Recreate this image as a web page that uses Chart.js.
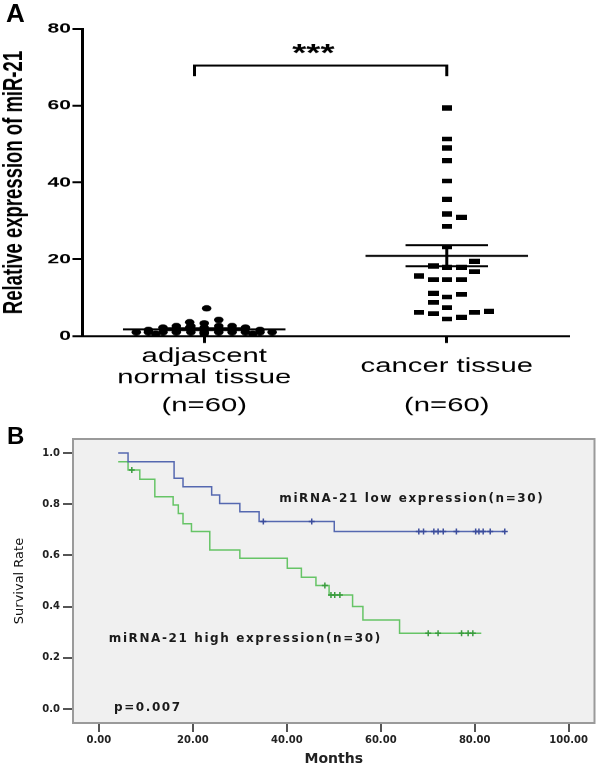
<!DOCTYPE html>
<html>
<head>
<meta charset="utf-8">
<script src="https://cdn.jsdelivr.net/npm/chart.js@4.4.1/dist/chart.umd.min.js"></script>
<style>
  body { margin: 0; background: #fff; }
  #wrap { position: relative; width: 600px; height: 766px; overflow: hidden; background: #fff; }
  /* panel A was stretched sideways in the original figure */
  #boxA { position: absolute; left: 0; top: 0; width: 400px; height: 420px; transform: scaleX(1.5); transform-origin: 0 0; }
  #boxB { position: absolute; left: 0; top: 420px; width: 600px; height: 346px; }
  .panel { position: absolute; font-family: "Liberation Sans", Arial, sans-serif; font-weight: bold; color: #000; }
</style>
</head>
<body>
<div id="wrap">
  <div id="boxA"><canvas id="chartA"></canvas></div>
  <div id="boxB"><canvas id="chartB"></canvas></div>
  <div class="panel" style="left:6px; top:0px; font-size:26px; line-height:26px">A</div>
  <div class="panel" style="left:7px; top:424px; font-size:24px; line-height:24px">B</div>
</div>
<script>
// ---- panel A data ----
const categoryLabels = [['adjascent', 'normal tissue', '(n=60)'], ['cancer tissue', '(n=60)']]
const yTicksA = [0, 20, 40, 60, 80]

const adjacentValues = [7.2, 4.2, 3.6, 3.3, 2.6, 2.6, 2.6, 2.6, 2.2, 2.2, 2.2, 2.2, 1.6, 1.6, 1.6, 1.6,
  1.0, 1.0, 1.0, 1.0, 1.0, 1.0, 1.0, 1.0, 1.0, 1.0, 1.0, 0.6, 0.6, 0.6]
const adjacentJitter = [0.01, 0.06, -0.06, 0.0, -0.115, -0.055, 0.06, 0.115, -0.17, -0.06, 0.0, 0.17, -0.23, -0.115, 0.115, 0.23,
  -0.28, -0.23, -0.17, -0.115, -0.055, 0.0, 0.06, 0.115, 0.17, 0.23, 0.28, -0.2, 0.0, 0.2]

const cancerValues = [59.4, 51.3, 49.0, 45.7, 40.4, 35.6, 31.8, 30.9, 28.6, 23.2, 18.2, 17.9, 17.9, 19.5, 16.8,
  15.6, 14.7, 14.7, 14.7, 11.1, 10.2, 10.9, 8.8, 6.2, 5.8, 7.4, 4.4, 4.9, 6.2, 6.4]
const cancerJitter = [0, 0, 0, 0, 0, 0, 0, 0.06, 0, 0, -0.055, 0, 0.06, 0.115, 0.115,
  -0.115, -0.055, 0, 0.06, -0.055, 0, 0.06, -0.055, -0.115, -0.055, 0, 0, 0.06, 0.115, 0.175]

const groupMeans = [1.75, 20.9]
const groupSems = [0.25, 2.75]
const bracketX = [0.96, 2.0]
const bracketTop = 70.5
const bracketFoot = 67.7
const significance = '***'

// ---- panel B data ----
const xTicksB = [0, 20, 40, 60, 80, 100]
const yTicksB = [0, 0.2, 0.4, 0.6, 0.8, 1.0]

const lowTimes = [4.1, 6.2, 16.0, 17.9, 24.0, 25.7, 30.0, 34.1, 50.1, 86.4]
const lowSurv = [1.0, 0.966, 0.901, 0.868, 0.836, 0.803, 0.771, 0.732, 0.693, 0.693]
const lowCensored = [35.0, 45.3, 68.1, 69.1, 71.3, 72.2, 73.3, 76.1, 80.2, 80.9, 81.8, 83.3, 86.4]

const highTimes = [4.1, 6.2, 8.7, 11.9, 15.8, 16.9, 17.9, 19.7, 23.6, 30.0, 40.1, 43.1, 46.2, 49.0, 54.0, 56.2, 64.0, 81.4]
const highSurv = [0.966, 0.934, 0.897, 0.829, 0.797, 0.764, 0.724, 0.693, 0.621, 0.589, 0.55, 0.515, 0.482, 0.445, 0.4, 0.348, 0.296, 0.296]
const highCensored = [7.0, 48.1, 49.4, 50.2, 51.3, 70.1, 72.2, 77.2, 78.6, 79.6]

const noteTexts = ['miRNA-21 low expression(n=30)', 'miRNA-21 high expression(n=30)', 'p=0.007']
const noteX = [38.4, 2.1, 3.2]
const noteY = [0.82, 0.273, 0.004]

const FONT = '"Liberation Sans", Arial, sans-serif'
const WIDE = '"DejaVu Sans", Verdana, sans-serif'

function segment(points) {
  return {
    data: points, showLine: true, pointRadius: 0, borderColor: '#000', borderWidth: 2,
    fill: false, tension: 0
  }
}

// a small flat box, like the squares of the original
const box = document.createElement('canvas')
box.width = 7
box.height = 5
box.getContext('2d').fillRect(0, 0, 7, 5)

let datasetsA = [
  {
    data: adjacentValues.map((v, i) => ({x: 1 + adjacentJitter[i], y: v})),
    pointStyle: 'circle', pointRadius: 3.2, backgroundColor: '#000', borderWidth: 0
  },
  {
    data: cancerValues.map((v, i) => ({x: 2 + cancerJitter[i], y: v})),
    pointStyle: box, pointRadius: 4, backgroundColor: '#000', borderWidth: 0
  }
]
groupMeans.forEach((m, i) => {
  const c = i + 1, s = groupSems[i]
  datasetsA.push(segment([{x: c - 0.335, y: m}, {x: c + 0.335, y: m}]))
  datasetsA.push(segment([{x: c, y: m - s}, {x: c, y: m + s}]))
  datasetsA.push(segment([{x: c - 0.17, y: m - s}, {x: c + 0.17, y: m - s}]))
  datasetsA.push(segment([{x: c - 0.17, y: m + s}, {x: c + 0.17, y: m + s}]))
})
datasetsA.push(segment([
  {x: bracketX[0], y: bracketFoot}, {x: bracketX[0], y: bracketTop},
  {x: bracketX[1], y: bracketTop}, {x: bracketX[1], y: bracketFoot}
]))

const labelsA = {
  id: 'labelsA',
  afterDraw(chart) {
    const ctx = chart.ctx, xs = chart.scales.x, ys = chart.scales.y
    const base = xs.top
    ctx.save()
    ctx.fillStyle = '#000'
    ctx.textAlign = 'center'
    ctx.textBaseline = 'alphabetic'
    ctx.font = '19.5px ' + FONT
    const offsets = [[26, 47, 75], [36, 75]]
    categoryLabels.forEach((lines, i) => {
      const px = xs.getPixelForValue(i + 1)
      lines.forEach((t, j) => ctx.fillText(t, px, base + offsets[i][j]))
    })
    ctx.font = 'bold 24px ' + FONT
    ctx.textBaseline = 'middle'
    ctx.fillText(significance, xs.getPixelForValue(1.45), ys.getPixelForValue(bracketTop + 2.8))
    ctx.restore()
  }
}

new Chart(document.getElementById('chartA'), {
  type: 'scatter',
  data: {datasets: datasetsA},
  options: {
    responsive: true,
    maintainAspectRatio: false,
    devicePixelRatio: 1.5,
    animation: false,
    layout: {padding: {top: 29, right: 21.3, bottom: 0, left: 0}},
    plugins: {legend: {display: false}, tooltip: {enabled: false}},
    scales: {
      x: {
        type: 'linear', min: 0.5, max: 2.5,
        afterBuildTicks: s => { s.ticks = [{value: 1}, {value: 2}] },
        afterFit: s => { s.height = 84 },
        ticks: {display: false},
        grid: {drawOnChartArea: false, drawTicks: true, tickLength: 7, color: '#000', lineWidth: 2},
        border: {display: true, color: '#000', width: 2}
      },
      y: {
        min: 0, max: 80,
        afterBuildTicks: s => { s.ticks = yTicksA.map(v => ({value: v})) },
        afterFit: s => { s.width = 55.3 },
        ticks: {color: '#000', padding: 1, font: {family: FONT, size: 14, weight: 'bold'}},
        grid: {drawOnChartArea: false, drawTicks: true, tickLength: 7, color: '#000', lineWidth: 2},
        border: {display: true, color: '#000', width: 2},
        title: {
          display: true, text: 'Relative expression of miR-21', color: '#000', padding: 0,
          font: {family: FONT, size: 18.5, weight: 'bold', lineHeight: 1}
        }
      }
    }
  },
  plugins: [labelsA]
})

// ---- panel B ----
function survivalAt(times, surv, t) {
  let s = surv[0]
  times.forEach((tt, i) => { if (tt <= t) s = surv[i] })
  return s
}

const frameB = {
  id: 'frameB',
  beforeDatasetsDraw(chart) {
    const {ctx, chartArea: a} = chart
    ctx.save()
    ctx.fillStyle = '#f0f0f0'
    ctx.fillRect(a.left, a.top, a.right - a.left, a.bottom - a.top)
    ctx.strokeStyle = '#9a9a9a'
    ctx.lineWidth = 2
    ctx.strokeRect(a.left, a.top, a.right - a.left, a.bottom - a.top)
    ctx.restore()
  },
  afterDatasetsDraw(chart) {
    const ctx = chart.ctx, xs = chart.scales.x, ys = chart.scales.y
    ctx.save()
    ctx.fillStyle = '#1a1a1a'
    ctx.font = 'bold 12px ' + WIDE
    ctx.letterSpacing = '1.6px'
    ctx.textAlign = 'left'
    ctx.textBaseline = 'middle'
    noteTexts.forEach((t, i) => ctx.fillText(t, xs.getPixelForValue(noteX[i]), ys.getPixelForValue(noteY[i])))
    ctx.restore()
  }
}

const blue = '#5568b0', blueMark = '#3b4c9c'
const green = '#66c466', greenMark = '#3a9c3e'

new Chart(document.getElementById('chartB'), {
  type: 'scatter',
  data: {
    datasets: [
      {
        data: lowCensored.map(t => ({x: t, y: survivalAt(lowTimes, lowSurv, t)})),
        pointStyle: 'cross', pointRadius: 3, borderColor: blueMark, borderWidth: 1.5
      },
      {
        data: highCensored.map(t => ({x: t, y: survivalAt(highTimes, highSurv, t)})),
        pointStyle: 'cross', pointRadius: 3, borderColor: greenMark, borderWidth: 1.5
      },
      {
        data: lowTimes.map((t, i) => ({x: t, y: lowSurv[i]})),
        showLine: true, stepped: true, pointRadius: 0, borderColor: blue, borderWidth: 1.5
      },
      {
        data: highTimes.map((t, i) => ({x: t, y: highSurv[i]})),
        showLine: true, stepped: true, pointRadius: 0, borderColor: green, borderWidth: 1.5
      }
    ]
  },
  options: {
    responsive: true,
    maintainAspectRatio: false,
    animation: false,
    layout: {padding: {top: 19, right: 4, bottom: 0, left: 0}},
    plugins: {legend: {display: false}, tooltip: {enabled: false}},
    scales: {
      x: {
        type: 'linear', min: -5.52, max: 105.5,
        afterBuildTicks: s => { s.ticks = xTicksB.map(v => ({value: v})) },
        afterFit: s => { s.height = 43 },
        ticks: {color: '#222', padding: 2, font: {family: WIDE, size: 10, weight: 'bold'}, callback: v => v.toFixed(2)},
        grid: {drawOnChartArea: false, drawTicks: true, tickLength: 9, color: '#555', lineWidth: 2},
        border: {display: false},
        title: {
          display: true, text: 'Months', color: '#222', padding: {top: 0, bottom: 0},
          font: {family: WIDE, size: 14, weight: 'bold', lineHeight: 1}
        }
      },
      y: {
        min: -0.0547, max: 1.0547,
        afterBuildTicks: s => { s.ticks = yTicksB.map(v => ({value: v})) },
        afterFit: s => { s.width = 73 },
        ticks: {color: '#222', padding: 3, font: {family: WIDE, size: 10, weight: 'bold'}, callback: v => v.toFixed(1)},
        grid: {drawOnChartArea: false, drawTicks: true, tickLength: 10, color: '#555', lineWidth: 2},
        border: {display: false},
        title: {
          display: true, text: 'Survival Rate', color: '#111', padding: {top: 13, bottom: 0},
          font: {family: WIDE, size: 13, lineHeight: 1}
        }
      }
    }
  },
  plugins: [frameB]
})
</script>
</body>
</html>
